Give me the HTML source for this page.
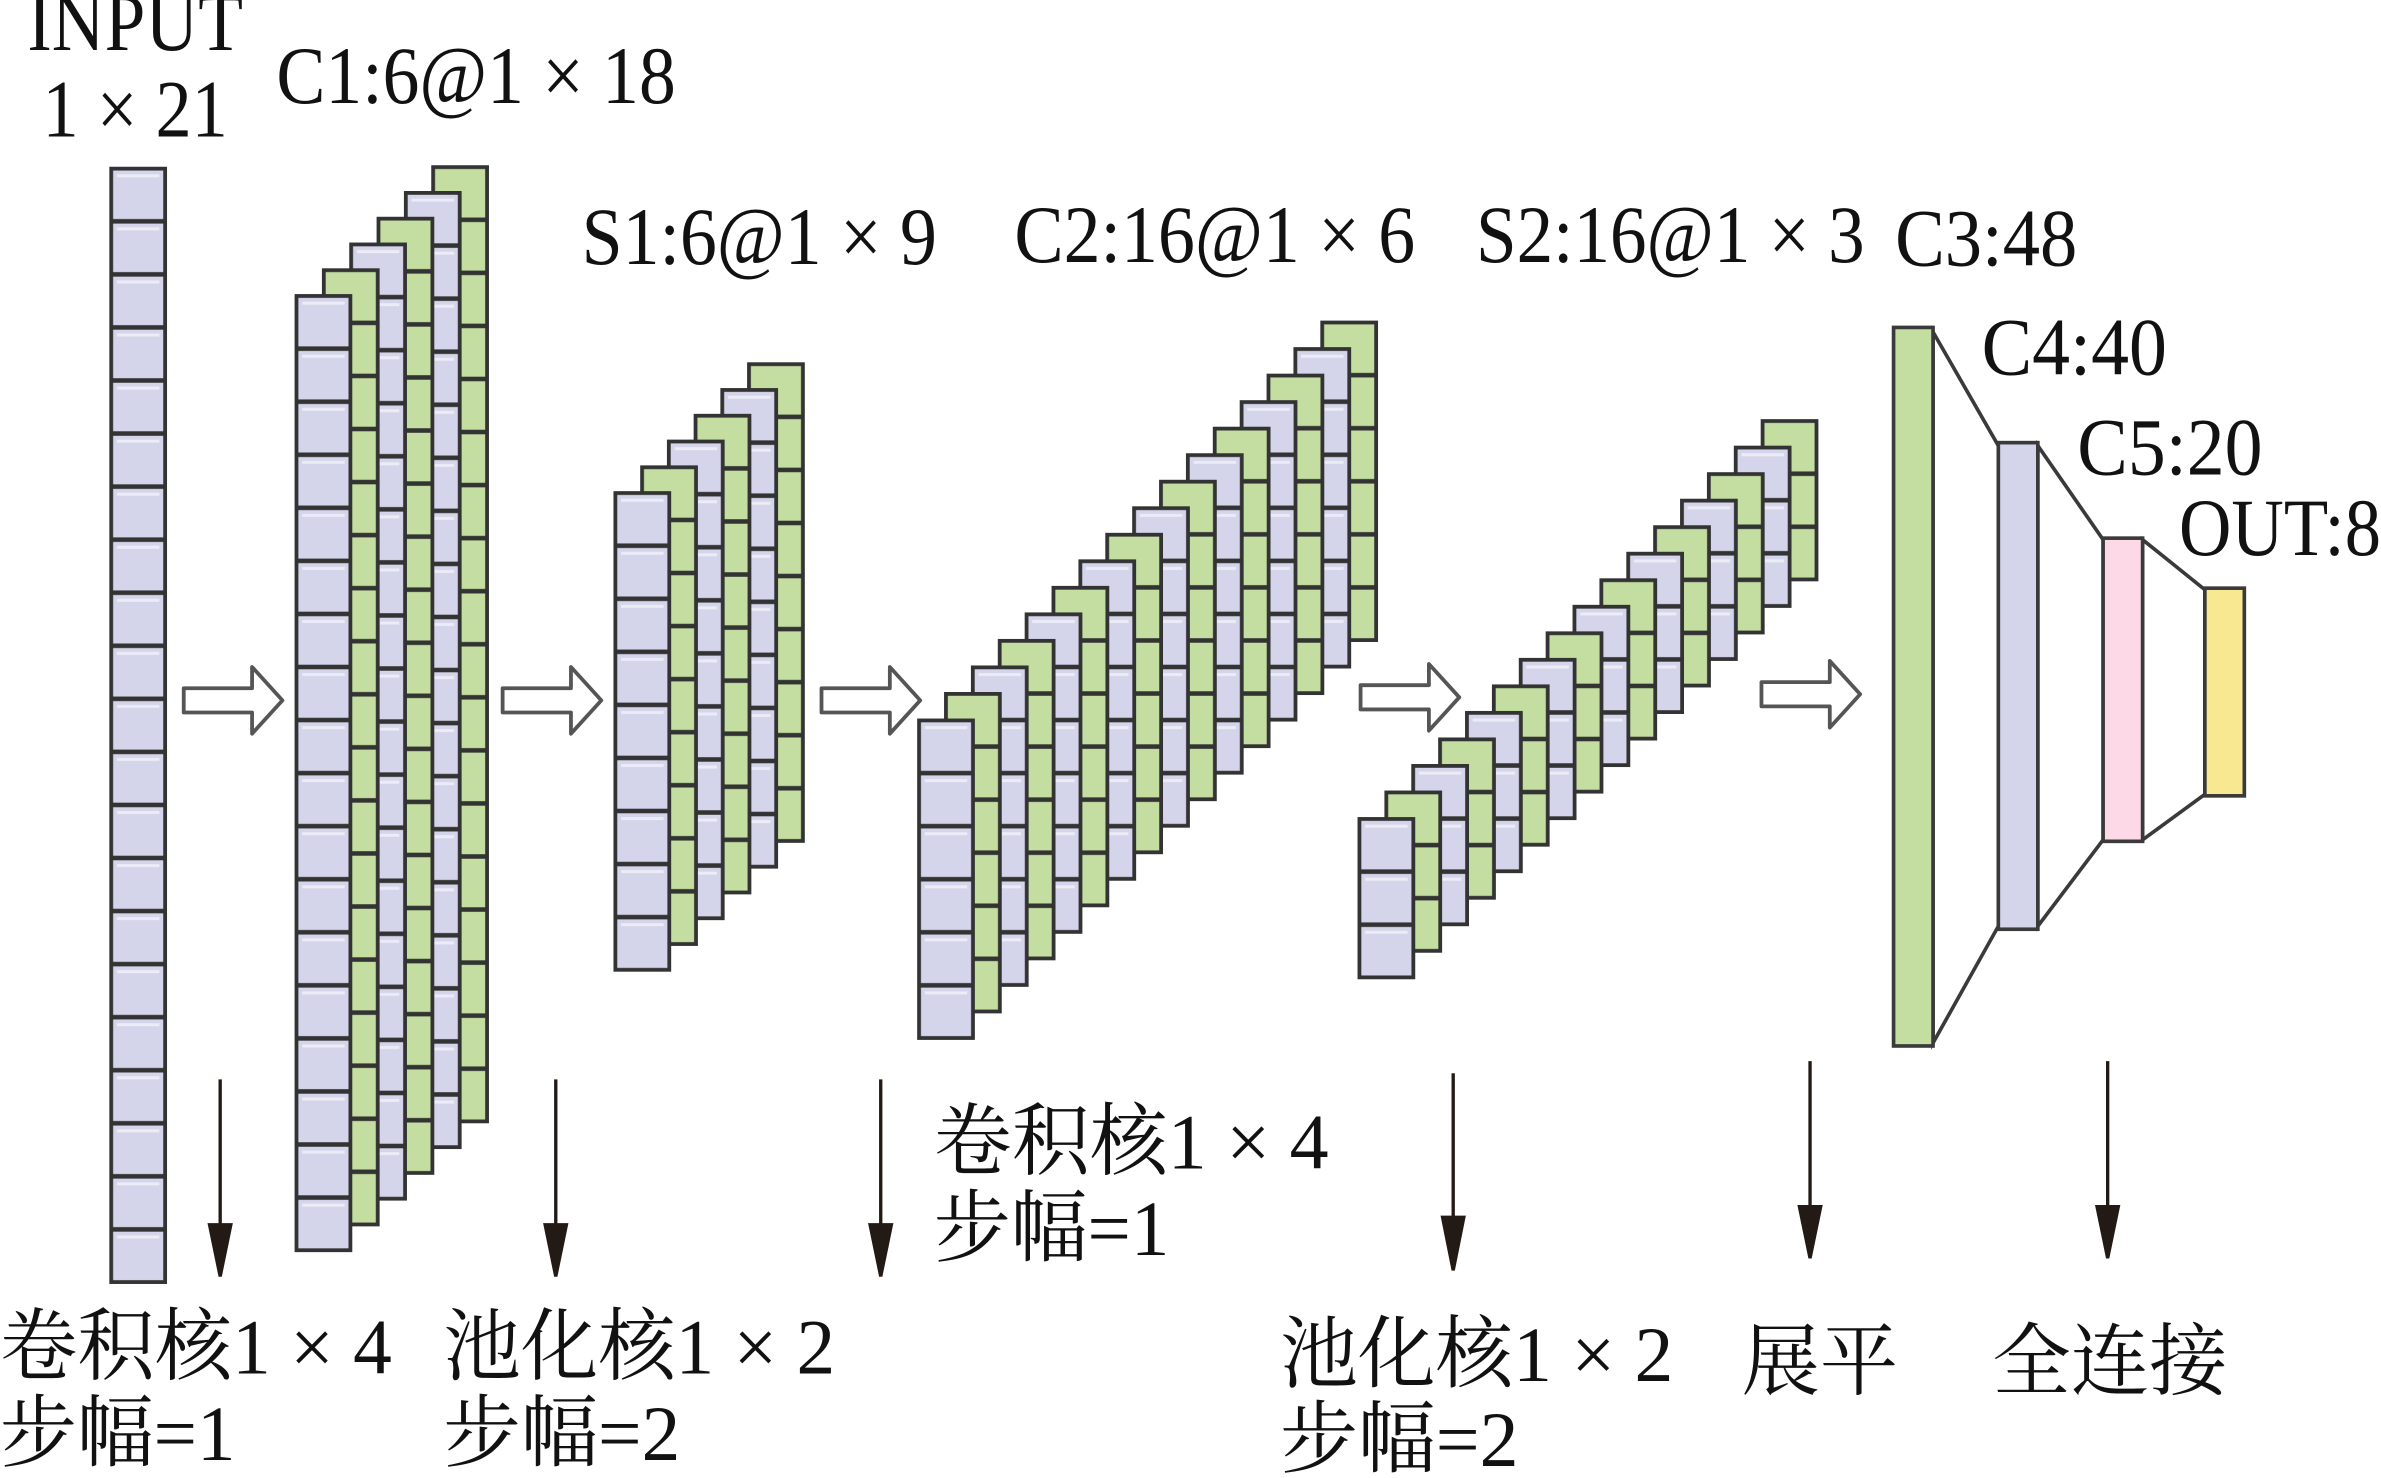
<!DOCTYPE html>
<html><head><meta charset="utf-8"><style>
html,body{margin:0;padding:0;background:#fff;}
svg{display:block;}
.t{font-family:"Liberation Serif",serif;font-size:54px;fill:#111;}
.c{font-family:"Liberation Serif","Noto Serif CJK SC","Noto Sans CJK SC",serif;font-size:52px;fill:#111;}
</style></head><body>
<svg width="2381" height="1478" viewBox="0 0 1568 975" preserveAspectRatio="none" xmlns="http://www.w3.org/2000/svg">
<defs>
<pattern id="pL" width="36" height="35" patternUnits="userSpaceOnUse"><rect width="36" height="35" fill="#333"/><rect x="1.5" y="1.5" width="33" height="32" fill="#d4d4ea"/><rect x="4" y="4" width="28" height="2" fill="#ececf7"/></pattern>
<pattern id="pG" width="36" height="35" patternUnits="userSpaceOnUse"><rect width="36" height="35" fill="#333"/><rect x="1.5" y="1.5" width="33" height="32" fill="#c4dea1"/></pattern>
<rect id="L21" width="36" height="735" fill="url(#pL)" stroke="#333" stroke-width="2"/>
<rect id="L18" width="36" height="630" fill="url(#pL)" stroke="#333" stroke-width="2"/>
<rect id="G18" width="36" height="630" fill="url(#pG)" stroke="#333" stroke-width="2"/>
<rect id="L9" width="36" height="315" fill="url(#pL)" stroke="#333" stroke-width="2"/>
<rect id="G9" width="36" height="315" fill="url(#pG)" stroke="#333" stroke-width="2"/>
<rect id="L6" width="36" height="210" fill="url(#pL)" stroke="#333" stroke-width="2"/>
<rect id="G6" width="36" height="210" fill="url(#pG)" stroke="#333" stroke-width="2"/>
<rect id="L3" width="36" height="105" fill="url(#pL)" stroke="#333" stroke-width="2"/>
<rect id="G3" width="36" height="105" fill="url(#pG)" stroke="#333" stroke-width="2"/>
<path id="ha" d="M0,-8 h45 v-14 l20,22 l-20,22 v-14 h-45 z" fill="#fff" stroke="#555" stroke-width="2.5" stroke-linejoin="round"/>
</defs>

<use href="#L21" x="73" y="111"/>

<use href="#G18" x="285" y="110"/>
<use href="#L18" x="267" y="127"/>
<use href="#G18" x="249" y="144"/>
<use href="#L18" x="231" y="161"/>
<use href="#G18" x="213" y="178"/>
<use href="#L18" x="195" y="195"/>

<use href="#G9" x="493" y="240"/>
<use href="#L9" x="475.4" y="257"/>
<use href="#G9" x="457.8" y="274"/>
<use href="#L9" x="440.2" y="291"/>
<use href="#G9" x="422.6" y="308"/>
<use href="#L9" x="405" y="325"/>

<use href="#G6" x="870.5" y="212.5"/>
<use href="#L6" x="852.8" y="230"/>
<use href="#G6" x="835.1" y="247.5"/>
<use href="#L6" x="817.4" y="265"/>
<use href="#G6" x="799.7" y="282.5"/>
<use href="#L6" x="782" y="300"/>
<use href="#G6" x="764.3" y="317.5"/>
<use href="#L6" x="746.6" y="335"/>
<use href="#G6" x="728.9" y="352.5"/>
<use href="#L6" x="711.2" y="370"/>
<use href="#G6" x="693.5" y="387.5"/>
<use href="#L6" x="675.8" y="405"/>
<use href="#G6" x="658.1" y="422.5"/>
<use href="#L6" x="640.4" y="440"/>
<use href="#G6" x="622.7" y="457.5"/>
<use href="#L6" x="605" y="475"/>

<use href="#G3" x="1160.5" y="277.5"/>
<use href="#L3" x="1142.8" y="295"/>
<use href="#G3" x="1125.1" y="312.5"/>
<use href="#L3" x="1107.4" y="330"/>
<use href="#G3" x="1089.7" y="347.5"/>
<use href="#L3" x="1072" y="365"/>
<use href="#G3" x="1054.3" y="382.5"/>
<use href="#L3" x="1036.6" y="400"/>
<use href="#G3" x="1018.9" y="417.5"/>
<use href="#L3" x="1001.2" y="435"/>
<use href="#G3" x="983.5" y="452.5"/>
<use href="#L3" x="965.8" y="470"/>
<use href="#G3" x="948.1" y="487.5"/>
<use href="#L3" x="930.4" y="505"/>
<use href="#G3" x="912.7" y="522.5"/>
<use href="#L3" x="895" y="540"/>

<use href="#ha" x="121" y="462"/>
<use href="#ha" x="331" y="462"/>
<use href="#ha" x="541" y="462"/>
<use href="#ha" x="896" y="460"/>
<use href="#ha" x="1160" y="458"/>

<g stroke="#3a3a3a" stroke-width="2.4" fill="#fff">
<path d="M1273,219 L1316,294 L1316,611 L1273,688 Z"/>
<path d="M1342,294 L1385,356 L1385,554 L1342,611 Z"/>
<path d="M1411,356 L1452,389 L1452,524 L1411,554 Z"/>
<rect x="1247" y="216" width="26" height="474" fill="#c4dea1"/>
<rect x="1316" y="292" width="26" height="321" fill="#d4d4ea"/>
<rect x="1385" y="355" width="26" height="200" fill="#fdd9e7"/>
<rect x="1452" y="388" width="26" height="137" fill="#f8e891"/>
</g>

<g stroke="#231a15" stroke-width="2.2" fill="#231a15">
<line x1="145" y1="712" x2="145" y2="820"/><path d="M138,808 L152,808 L145,842 Z"/>
<line x1="366" y1="712" x2="366" y2="820"/><path d="M359,808 L373,808 L366,842 Z"/>
<line x1="580" y1="712" x2="580" y2="820"/><path d="M573,808 L587,808 L580,842 Z"/>
<line x1="957" y1="708" x2="957" y2="815"/><path d="M950,803 L964,803 L957,838 Z"/>
<line x1="1192" y1="700" x2="1192" y2="808"/><path d="M1185,796 L1199,796 L1192,830 Z"/>
<line x1="1388" y1="700" x2="1388" y2="808"/><path d="M1381,796 L1395,796 L1388,830 Z"/>
</g>

<text class="t" x="18" y="33" textLength="142" lengthAdjust="spacingAndGlyphs">INPUT</text>
<text class="t" x="28" y="90" textLength="122" lengthAdjust="spacingAndGlyphs">1 × 21</text>
<text class="t" x="182" y="68" textLength="263" lengthAdjust="spacingAndGlyphs">C1:6@1 × 18</text>
<text class="t" x="383" y="174" textLength="234" lengthAdjust="spacingAndGlyphs">S1:6@1 × 9</text>
<text class="t" x="668" y="173" textLength="264" lengthAdjust="spacingAndGlyphs">C2:16@1 × 6</text>
<text class="t" x="972" y="173" textLength="256" lengthAdjust="spacingAndGlyphs">S2:16@1 × 3</text>
<text class="t" x="1248" y="175" textLength="120" lengthAdjust="spacingAndGlyphs">C3:48</text>
<text class="t" x="1305" y="247" textLength="122" lengthAdjust="spacingAndGlyphs">C4:40</text>
<text class="t" x="1368" y="313" textLength="122" lengthAdjust="spacingAndGlyphs">C5:20</text>
<text class="t" x="1435" y="366" textLength="133" lengthAdjust="spacingAndGlyphs">OUT:8</text>

<text class="c" x="0" y="906" textLength="258" lengthAdjust="spacingAndGlyphs">卷积核1 × 4</text>
<text class="c" x="0" y="963" textLength="155" lengthAdjust="spacingAndGlyphs">步幅=1</text>
<text class="c" x="292" y="906" textLength="258" lengthAdjust="spacingAndGlyphs">池化核1 × 2</text>
<text class="c" x="292" y="963" textLength="156" lengthAdjust="spacingAndGlyphs">步幅=2</text>
<text class="c" x="615" y="771" textLength="260" lengthAdjust="spacingAndGlyphs">卷积核1 × 4</text>
<text class="c" x="615" y="828" textLength="155" lengthAdjust="spacingAndGlyphs">步幅=1</text>
<text class="c" x="843" y="911" textLength="259" lengthAdjust="spacingAndGlyphs">池化核1 × 2</text>
<text class="c" x="843" y="967" textLength="157" lengthAdjust="spacingAndGlyphs">步幅=2</text>
<text class="c" x="1147" y="916" textLength="103" lengthAdjust="spacingAndGlyphs">展平</text>
<text class="c" x="1312" y="916" textLength="155" lengthAdjust="spacingAndGlyphs">全连接</text>
</svg>
</body></html>
